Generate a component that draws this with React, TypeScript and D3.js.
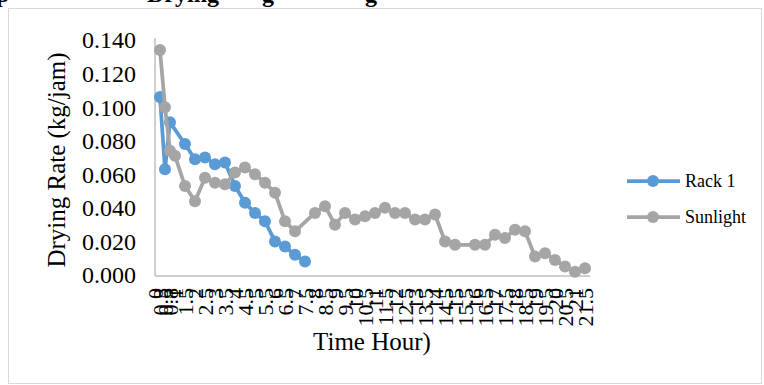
import * as d3 from "d3";

const rackHours = [0.25, 0.5, 0.75, 1.5, 2, 2.5, 3, 3.5, 4, 4.5, 5, 5.5, 6, 6.5, 7, 7.5];
const rackRate = [0.106, 0.063, 0.091, 0.078, 0.069, 0.07, 0.066, 0.067, 0.053, 0.043, 0.037, 0.032, 0.02, 0.017, 0.012, 0.008];

const sunHours = [
  0.25, 0.5, 0.75, 1, 1.5, 2, 2.5, 3, 3.5, 4, 4.5, 5, 5.5, 6, 6.5, 7,
  8, 8.5, 9, 9.5, 10, 10.5, 11, 11.5, 12, 12.5, 13, 13.5, 14, 14.5, 15,
  16, 16.5, 17, 17.5, 18, 18.5, 19, 19.5, 20, 20.5, 21, 21.5,
];
const sunRate = [
  0.134, 0.1, 0.074, 0.071, 0.053, 0.044, 0.058, 0.055, 0.054, 0.061, 0.064, 0.06, 0.055, 0.049, 0.032, 0.026,
  0.037, 0.041, 0.03, 0.037, 0.033, 0.035, 0.037, 0.04, 0.037, 0.037, 0.033, 0.033, 0.036, 0.02, 0.018,
  0.018, 0.018, 0.024, 0.022, 0.027, 0.026, 0.011, 0.013, 0.009, 0.005, 0.002, 0.004,
];

// category labels under the x axis
const tickHours = [0, 0.25, 0.5, 0.75, ...d3.range(1, 21.75, 0.5)];
const tickLabels = tickHours.map((h) => (h % 0.5 ? h.toFixed(1) : String(h)));

const yTicks = [0, 0.02, 0.04, 0.06, 0.08, 0.1, 0.12, 0.14];

const series = [
  { name: "Rack 1", color: "#5B9BD5", hours: rackHours, rate: rackRate },
  { name: "Sunlight", color: "#A5A5A5", hours: sunHours, rate: sunRate },
];

const font = "'Liberation Serif', 'Times New Roman', serif";

export default function App() {
  const width = 764;
  const height = 385;

  const x = d3.scaleLinear().domain([0, 21.75]).range([155, 590]);
  const y = d3.scaleLinear().domain([0, 0.14]).range([275, 40]);

  const line = d3
    .line<[number, number]>()
    .x((d) => x(d[0]))
    .y((d) => y(d[1]));

  return (
    <svg
      width={width}
      height={height}
      style={{ position: "absolute", left: 0, top: 0, fontFamily: font }}
    >
      <rect width={width} height={height} fill="#fff" />
      {/* caption cut off at the top */}
      <text y={2} fontSize={24} fontWeight="bold" fill="#000">
        <tspan x={-4}>p</tspan>
        <tspan x={147}>Drying</tspan>
        <tspan x={262}>g</tspan>
        <tspan x={365}>g</tspan>
      </text>
      <rect x={8.5} y={8.5} width={753} height={375} fill="none" stroke="#d9d9d9" />

      {/* axes */}
      <line x1={155} x2={155} y1={38} y2={276} stroke="#bfbfbf" strokeWidth={1.5} />
      <line x1={155} x2={590} y1={276} y2={276} stroke="#bfbfbf" strokeWidth={1.5} />

      {yTicks.map((t) => (
        <text key={t} x={136} y={y(t)} dy="0.35em" textAnchor="end" fontSize={24}>
          {t.toFixed(3)}
        </text>
      ))}

      {tickHours.map((h, i) => (
        <text
          key={i}
          transform={`translate(${x(h)},288) rotate(-90)`}
          dy="0.35em"
          textAnchor="end"
          fontSize={22}
        >
          {tickLabels[i]}
        </text>
      ))}

      <text x={372} y={350} textAnchor="middle" fontSize={25}>
        Time Hour)
      </text>
      <text transform="translate(65,160) rotate(-90)" textAnchor="middle" fontSize={25}>
        Drying Rate (kg/jam)
      </text>

      {series.map((s) => {
        const pts = s.hours.map((h, i) => [h, s.rate[i]] as [number, number]);
        return (
          <g key={s.name}>
            <path d={line(pts) ?? ""} fill="none" stroke={s.color} strokeWidth={3.75} strokeLinejoin="round" />
            {pts.map((p, i) => (
              <circle key={i} cx={x(p[0])} cy={y(p[1])} r={6} fill={s.color} />
            ))}
          </g>
        );
      })}

      {/* legend */}
      {series.map((s, i) => {
        const ly = 181 + i * 36;
        return (
          <g key={s.name}>
            <line x1={627} x2={680} y1={ly} y2={ly} stroke={s.color} strokeWidth={3.75} />
            <circle cx={653} cy={ly} r={6} fill={s.color} />
            <text x={685} y={ly} dy="0.35em" fontSize={18}>
              {s.name}
            </text>
          </g>
        );
      })}
    </svg>
  );
}
